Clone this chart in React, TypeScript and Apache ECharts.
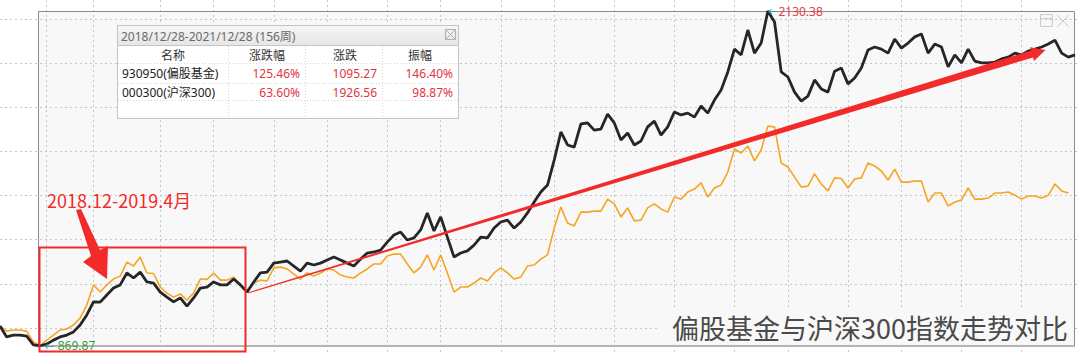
import React, { useEffect, useRef } from "react";
import * as echarts from "echarts";

const FONT = "'Noto Sans', 'Noto Sans CJK SC', sans-serif";
const CJK = "'Noto Sans CJK SC', 'Noto Sans', sans-serif";

const fundName = "930950(偏股基金)";
const indexName = "000300(沪深300)";

// 930950 weekly closes (6 weeks before the period + 156-week period)
const fundIndex: number[] = [
  944, 903, 910, 910, 906, 873,
  869.87, 876, 891, 903, 910, 922, 948, 986, 1035, 1034,
  1061, 1087, 1099, 1144, 1125, 1147, 1110, 1106, 1072, 1053,
  1035, 1050, 1019, 1050, 1087, 1091, 1110, 1099, 1099, 1121,
  1099, 1072, 1110, 1144, 1147, 1181, 1185, 1189, 1170, 1151,
  1181, 1174, 1181, 1193, 1204, 1193, 1181, 1170, 1196, 1219,
  1223, 1230, 1260, 1287, 1298, 1268, 1276, 1306, 1370, 1302,
  1355, 1279, 1204, 1219, 1227, 1249, 1279, 1276, 1313, 1336,
  1343, 1313, 1336, 1370, 1411, 1449, 1475, 1569, 1675, 1626,
  1618, 1705, 1709, 1682, 1686, 1742, 1709, 1645, 1671, 1626,
  1641, 1694, 1716, 1663, 1694, 1750, 1739, 1746, 1731, 1773,
  1746, 1795, 1833, 1901, 1987, 1965, 2059, 1972, 2010, 2130.38,
  2089, 1901, 1882, 1825, 1791, 1810, 1871, 1837, 1825, 1904,
  1916, 1856, 1878, 1916, 1984, 1995, 1987, 1972, 2025, 1991,
  2010, 2033, 2044, 1972, 2006, 1995, 1920, 1965, 1935, 1987,
  1942, 1935, 1935, 1938, 1950, 1957, 1972, 1965, 1980, 1987,
  1995, 2006, 2021, 1972, 1957, 1965.14,
];

// 000300 weekly closes, rebased to the fund's starting level
const hs300: (number | null)[] = [
  944, 925, 929, 929, 925, 884,
  869.87, 891, 910, 929, 933, 948, 974, 1023, 1099, 1072,
  1099, 1121, 1132, 1185, 1170, 1204, 1144, 1142, 1091, 1068,
  1053, 1065, 1042, 1068, 1121, 1120, 1144, 1117, 1117, 1129,
  1099, 1072, 1106, 1117, 1114, 1163, 1166, 1159, 1140, 1121,
  1144, 1132, 1144, 1159, 1155, 1136, 1129, 1125, 1144, 1159,
  1178, 1178, 1208, 1215, 1215, 1178, 1144, 1166, 1212, 1155,
  1212, 1144, 1072, 1091, 1091, 1106, 1125, 1114, 1144, 1163,
  1144, 1121, 1129, 1170, 1174, 1196, 1212, 1313, 1392, 1332,
  1321, 1373, 1373, 1377, 1377, 1422, 1404, 1355, 1389, 1340,
  1343, 1389, 1404, 1385, 1373, 1430, 1422, 1449, 1460, 1483,
  1430, 1464, 1475, 1524, 1611, 1596, 1622, 1566, 1607, 1697,
  1694, 1558, 1543, 1505, 1468, 1471, 1517, 1479, 1453, 1502,
  1500, 1464, 1498, 1502, 1558, 1547, 1528, 1494, 1535, 1486,
  1486, 1490, 1490, 1411, 1445, 1445, 1396, 1411, 1419, 1464,
  1422, 1422, 1426, 1445, 1445, 1449, 1437, 1422, 1434, 1434,
  1426, 1437, 1479, 1453, 1445, null,
];

const weeks: string[] = fundIndex.map((_, i) => {
  const d = new Date(2018, 11, 28 + (i - 6) * 7);
  return `${d.getFullYear()}/${d.getMonth() + 1}/${d.getDate()}`;
});

const verticalGridWeeks = [7, 14, 24, 32, 41, 49, 58, 66, 75, 83, 92, 101, 110, 118, 127, 135, 144, 153];

const tableTitle = "2018/12/28-2021/12/28 (156周)";
const tableHeaders = ["名称", "涨跌幅", "涨跌", "振幅"];
const tableNames = [fundName, indexName];
const tableChangePct = ["125.46%", "63.60%"];
const tableChange = ["1095.27", "1926.56"];
const tableAmplitude = ["146.40%", "98.87%"];

const annotationText = "2018.12-2019.4月";
const chartTitle = "偏股基金与沪深300指数走势对比";

const RED = "#f22a2a";
const NUM_RED = "#e2343f";
const GRID = "#c6c6c6";

function buildGraphic(): any[] {
  const els: any[] = [];
  // selected period box
  els.push({ type: "rect", z: -1, shape: { x: 38.5, y: 11.5, width: 1036, height: 334.5 }, style: { fill: "#f8f8f8" } });
  els.push({ type: "rect", z: 1, shape: { x: 38.5, y: 11.5, width: 1036, height: 334.5 }, style: { fill: "none", stroke: "#8c8c8c", lineWidth: 1 } });
  els.push({ type: "line", z: 1, shape: { x1: 38, y1: 346, x2: 1075, y2: 346 }, style: { stroke: "#b4b4b4", lineWidth: 2 } });

  // window icons top right
  els.push({ type: "rect", z: 10, shape: { x: 1040.5, y: 14.5, width: 12, height: 12 }, style: { fill: "none", stroke: "#cccccc", lineWidth: 1 } });
  els.push({ type: "line", z: 10, shape: { x1: 1040.5, y1: 18.5, x2: 1052.5, y2: 18.5 }, style: { stroke: "#cccccc", lineWidth: 1 } });
  els.push({ type: "line", z: 10, shape: { x1: 1057, y1: 15, x2: 1069, y2: 27 }, style: { stroke: "#cccccc", lineWidth: 1 } });
  els.push({ type: "line", z: 10, shape: { x1: 1069, y1: 15, x2: 1057, y2: 27 }, style: { stroke: "#cccccc", lineWidth: 1 } });

  // statistics table
  const tx = 117.5, ty = 25.5, tw = 341, th = 93;
  els.push({ type: "rect", z: 10, shape: { x: tx, y: ty, width: tw, height: th }, style: { fill: "#ffffff", stroke: "#c4c4c4", lineWidth: 1 } });
  els.push({
    type: "rect", z: 10, shape: { x: tx, y: ty, width: tw, height: 20 },
    style: {
      fill: new echarts.graphic.LinearGradient(0, 0, 0, 1, [
        { offset: 0, color: "#f6f6f6" },
        { offset: 1, color: "#e6e6e6" },
      ]),
      stroke: "#c4c4c4", lineWidth: 1,
    },
  });
  els.push({ type: "text", z: 11, x: 121, y: 36, style: { text: tableTitle, fill: "#6a6a6a", font: `12px ${FONT}`, textAlign: "left", textVerticalAlign: "middle" } });
  els.push({ type: "rect", z: 11, shape: { x: 445.5, y: 29.5, width: 10, height: 10 }, style: { fill: "none", stroke: "#b0b0b0", lineWidth: 1 } });
  els.push({ type: "line", z: 11, shape: { x1: 446, y1: 30, x2: 455, y2: 39 }, style: { stroke: "#b0b0b0", lineWidth: 1 } });
  els.push({ type: "line", z: 11, shape: { x1: 455, y1: 30, x2: 446, y2: 39 }, style: { stroke: "#b0b0b0", lineWidth: 1 } });
  [63, 83, 100].forEach((y) => {
    els.push({ type: "line", z: 10, shape: { x1: 118, y1: y + 0.5, x2: 458, y2: y + 0.5 }, style: { stroke: "#d4d4d4", lineWidth: 1, lineDash: [1, 2] } });
  });
  [228, 305, 382].forEach((x) => {
    els.push({ type: "line", z: 10, shape: { x1: x + 0.5, y1: 46, x2: x + 0.5, y2: 118 }, style: { stroke: "#d4d4d4", lineWidth: 1, lineDash: [1, 2] } });
  });
  const headerX = [173, 267, 345, 420];
  tableHeaders.forEach((h, i) => {
    els.push({ type: "text", z: 11, x: headerX[i], y: 55, style: { text: h, fill: "#333333", font: `12px ${FONT}`, textAlign: "center", textVerticalAlign: "middle" } });
  });
  const rowY = [73, 92];
  tableNames.forEach((n, r) => {
    els.push({ type: "text", z: 11, x: 122, y: rowY[r], style: { text: n, fill: "#222222", font: `12px ${FONT}`, textAlign: "left", textVerticalAlign: "middle" } });
    els.push({ type: "text", z: 11, x: 300, y: rowY[r], style: { text: tableChangePct[r], fill: NUM_RED, font: `12px ${FONT}`, textAlign: "right", textVerticalAlign: "middle" } });
    els.push({ type: "text", z: 11, x: 377, y: rowY[r], style: { text: tableChange[r], fill: NUM_RED, font: `12px ${FONT}`, textAlign: "right", textVerticalAlign: "middle" } });
    els.push({ type: "text", z: 11, x: 453, y: rowY[r], style: { text: tableAmplitude[r], fill: NUM_RED, font: `12px ${FONT}`, textAlign: "right", textVerticalAlign: "middle" } });
  });

  // red annotation box, label and arrows
  els.push({ type: "rect", z: 12, shape: { x: 39.5, y: 247.5, width: 206, height: 104 }, style: { fill: "none", stroke: RED, lineWidth: 2 } });
  els.push({ type: "text", z: 12, x: 47, y: 200, style: { text: annotationText, fill: RED, font: `18px ${CJK}`, textAlign: "left", textVerticalAlign: "middle" } });
  els.push({
    type: "polygon", z: 12,
    shape: { points: [[76, 210], [81, 209], [100, 250], [108, 246], [107, 279], [83, 262], [91, 256]] },
    style: { fill: RED },
  });
  els.push({
    type: "polygon", z: 12,
    shape: {
      points: [
        [248.1, 293.5], [1033, 57.4], [1034, 61], [1045.5, 49.9], [1030, 47.3], [1031, 50.6], [247.9, 292.5],
      ],
    },
    style: { fill: RED },
  });

  // bottom right title
  els.push({ type: "rect", z: 9, shape: { x: 660, y: 309, width: 413, height: 36 }, style: { fill: "#f8f8f8" } });
  els.push({ type: "text", z: 12, x: 1068, y: 327, style: { text: chartTitle, fill: "#4a4a4a", font: `27px ${CJK}`, textAlign: "right", textVerticalAlign: "middle" } });
  return els;
}

export default function App() {
  const ref = useRef<HTMLDivElement>(null);
  useEffect(() => {
    if (!ref.current) return;
    const chart = echarts.init(ref.current, undefined, { renderer: "svg" });
    const option: any = {
      animation: false,
      backgroundColor: "#ffffff",
      grid: [
        { left: -1, right: 5, top: 0, bottom: 0 },
        { left: 0, right: 0, top: 19, bottom: 27 },
      ],
      xAxis: [
        {
          type: "category", gridIndex: 0, data: weeks, boundaryGap: false,
          axisLine: { show: false }, axisTick: { show: false }, axisLabel: { show: false },
          splitLine: { show: true, interval: (i: number) => verticalGridWeeks.includes(i), lineStyle: { color: GRID, width: 1, type: [2, 3] } },
        },
        { type: "value", gridIndex: 1, show: false, min: 0, max: 1 },
      ],
      yAxis: [
        { type: "value", gridIndex: 0, min: 835, max: 2172, show: false },
        {
          type: "value", gridIndex: 1, min: 0, max: 7, interval: 1,
          axisLine: { show: false }, axisTick: { show: false }, axisLabel: { show: false },
          splitLine: { show: true, lineStyle: { color: GRID, width: 1, type: [2, 3] } },
        },
      ],
      series: [
        {
          name: indexName, type: "line", xAxisIndex: 0, yAxisIndex: 0, data: hs300,
          symbol: "none", z: 3, lineStyle: { color: "#f6a424", width: 1.6 },
        },
        {
          name: fundName, type: "line", xAxisIndex: 0, yAxisIndex: 0, data: fundIndex,
          symbol: "none", z: 4, lineStyle: { color: "#262626", width: 2.8 },
          markPoint: {
            symbol: "circle", symbolSize: 1, itemStyle: { color: "rgba(0,0,0,0)" },
            data: [
              {
                type: "max",
                label: {
                  show: true, position: "right", distance: 0,
                  formatter: (p: any) => `{a|←}{b|${p.value}}`,
                  rich: {
                    a: { color: "#3a9cc0", fontSize: 12, fontFamily: "DejaVu Sans" },
                    b: { color: "#e0404a", fontSize: 12, fontFamily: FONT },
                  },
                },
              },
              {
                type: "min",
                label: {
                  show: true, position: "right", distance: 4,
                  formatter: (p: any) => `{a|←}{b| ${p.value}}`,
                  rich: {
                    a: { color: "#3a9cc0", fontSize: 12, fontFamily: "DejaVu Sans" },
                    b: { color: "#3e9a3e", fontSize: 12, fontFamily: FONT },
                  },
                },
              },
            ],
          },
        },
      ],
      graphic: buildGraphic(),
    };
    chart.setOption(option);
    return () => chart.dispose();
  }, []);
  return <div ref={ref} style={{ position: "fixed", left: 0, top: 0, width: 1080, height: 355 }} />;
}
